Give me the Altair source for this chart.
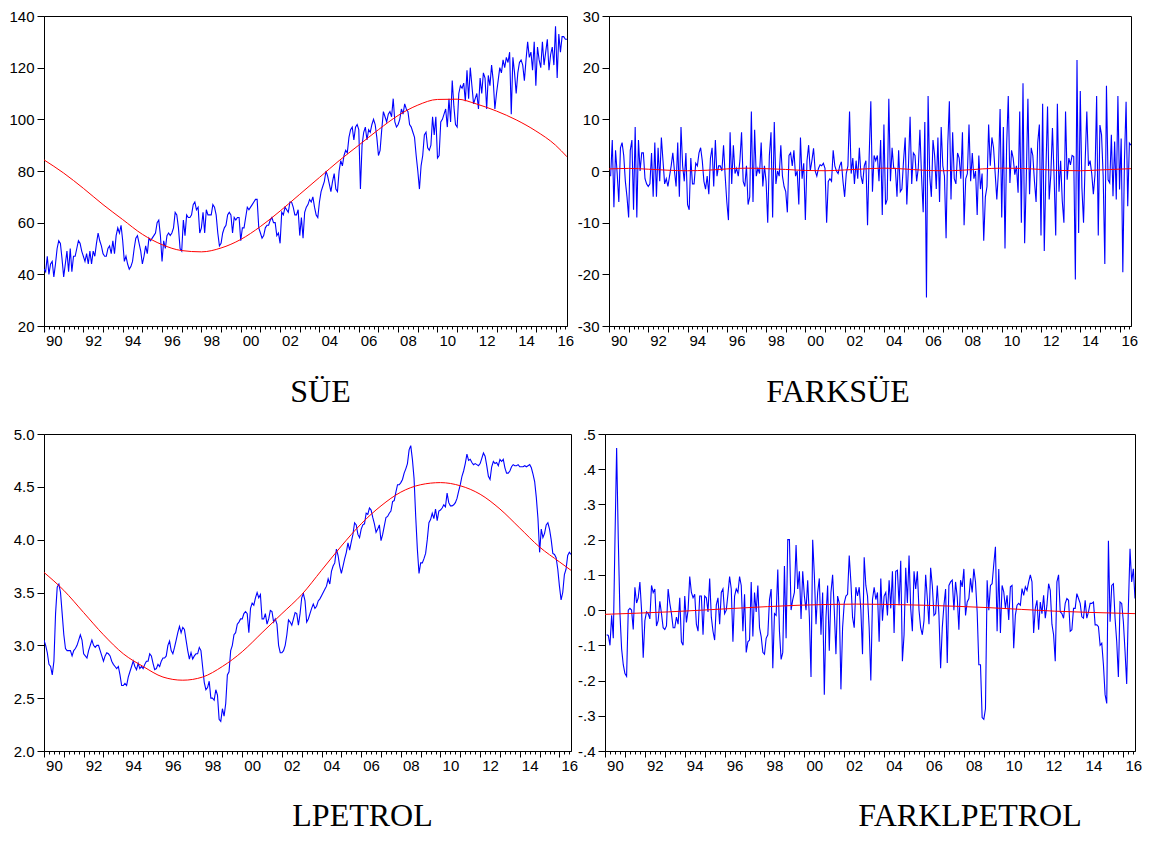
import altair as alt
import pandas as pd

# ---------------- data (monthly, 1990M01 - 2016M08) ----------------
SUE = [
    42, 41, 47, 40, 44, 45, 39, 44, 50, 53, 52, 46,
    39, 44, 49, 41, 50, 41, 47, 47, 50, 53, 52, 49,
    47, 45, 48, 44, 49, 44, 49, 47, 52, 56, 53, 51,
    48, 47, 47, 50, 51, 48, 53, 48, 55, 58, 56, 59,
    53, 45, 47, 44, 42, 43, 45, 50, 54, 55, 52, 49,
    44, 47, 51, 48, 54, 53, 54, 55, 56, 60, 61, 55,
    45, 53, 50, 55, 56, 55, 56, 58, 64, 63, 58, 50,
    49, 61, 55, 63, 62, 62, 63, 67, 68, 65, 66, 56,
    58, 64, 56, 65, 63, 63, 63, 67, 66, 63, 56, 51,
    52, 56, 58, 59, 63, 64, 63, 56, 62, 61, 62, 62,
    53, 58, 58, 62, 66, 65, 66, 67, 68, 69, 69, 58,
    56, 54, 55, 58, 59, 59, 61, 62, 60, 60, 55, 56,
    52, 64, 63, 66, 65, 64, 68, 68, 66, 63, 63, 65,
    55, 62, 54, 64, 66, 67, 69, 68, 70, 66, 63, 62,
    68, 72, 74, 76, 80, 78, 75, 72, 76, 79, 73, 72,
    80, 84, 82, 86, 88, 87, 93, 96, 97, 92, 97, 98,
    96, 73, 90, 95, 97, 92, 96, 95, 98, 100, 98, 93,
    86, 88, 96, 103, 101, 99, 102, 103, 101, 108, 99, 97,
    98, 100, 104, 102, 106, 104, 103, 98, 97, 95, 93, 86,
    80, 73, 82, 86, 94, 95, 89, 88, 90, 101, 94, 101,
    85, 86, 99, 100, 102, 104, 97, 108, 99, 115, 105, 98,
    97, 110, 113, 112, 114, 107, 119, 108, 120, 113, 106, 108,
    110, 104, 116, 110, 118, 116, 104, 117, 113, 121, 115, 104,
    110, 115, 120, 118, 123, 120, 124, 122, 126, 102, 124, 118,
    110, 118, 122, 123, 121, 115, 123, 130, 124, 126, 119, 130,
    113, 128, 123, 120, 130, 121, 126, 131, 119, 125, 128, 121,
    136, 116, 133, 126, 132, 132, 131, 131,
]

FARKSUE = [
    None, -1, 6, -7, 4, -0.5, -6, 4.5, 5.5, 3, -2, -5,
    -9, 4, 6, -7.5, 8.5, -9, 6, 0, 3.5, 3.5, -1.5, -2.5,
    -3, -2.5, 3.5, -5, 5.5, -5, 4.5, -2, 6.5, 2, -2.5, -1.5,
    -3, -1, 1, 3.5, 0, -3, 5.5, -5, 8.5, 1, -2, 3.5,
    -6.5, -7.5, 2.5, -2.5, -2.5, 1.5, 1, 3.5, 4.5, 2, -2, -3.5,
    -1, -4.5, 2.5, 4.5, -3, 6, -1, 1, 1, 0, 5, -1,
    -6, -9.5, 7.5, -2.5, 5, -0.5, 0.5, -1, 2, 7.5, -2, -3,
    1, -6.5, -5, 11.5, -6, 8, -1, 0.5, -0.5, 5.5, -3, 1,
    -2, -10, 3, 7.5, -9, 9.5, -2.5, 0, -1, 5, -1, -3,
    -4, -8, 3, 3.5, 1, 4, -1, 0, -6.5, 6.5, -1.5, 1.5,
    -9.5, 2, 5, 0, 2, 4.4, 0, -1, 0.5, 1.2, 1, 1.5,
    0.5, -10, -2, -1.5, -2, 4, 1, 0, -0.5, 1, 1.8, -2,
    -5, -0.5, 1, 11.5, -0.5, 2.5, -2.5, 2, -1.5, 4.5, -1, -2.5,
    1, 2, -10.5, 3, 13.5, -4, 3, 2, 3, -2, 6, -8.5,
    9, -6.5, -5.5, 14, -2, 4.5, 0.5, 0.5, -5, 4, -4, -3.5,
    2, 6.5, -6.5, 1, 10.5, -2.5, 3.5, 3, -2, 0.5, 8, -1,
    -8, 9.5, -24.5, 14.5, -1, -5, 6, 3, -3.5, 6.5, -6, 8.5,
    1, -1, -13, 5, 13.5, -5.5, 7.5, -1.5, -2.5, 3.5, 2.5, -1.5,
    7.5, -10.5, -1.5, -0.5, 9, -2, 3.5, -1.5, 0, -8.5, 3, -3.5,
    -0.5, -13.5, -5, -3, 9, 1, 6.5, 4.5, -0.5, -5.5, 0, 12,
    -9, 8.5, -15, 5, 14.5, -2.3, 4, 2.5, -0.7, 1, -4.2, 11.5,
    -10, 17, -14, -1.5, 14, -4.5, 4.5, 3, -2, -6, 5.5, 9,
    -12.5, 13, -15.5, 0, 12.5, -5.5, -0.7, 8.3, -1, -12.5, 13, -4,
    2, -5.8, -10, 11.5, -1.7, 2.5, 1.2, 3, 2.8, -21, 21.5, -12,
    15.5, -3.3, -10, 2, 11.5, 1, 2, -0.5, -4.5, -0.7, 14.5, -12.5,
    8.9, 7, -1, -18, 16.5, -1.7, -2.3, 7, -4.9, 5.7, -5.5, 14.5,
    -3.6, 6.3, -19.6, 2, 13.4, -6.8, 5.4, 5,
]

LPETROL = [
    3.05, 3.0, 2.93, 2.82, 2.8, 2.72, 2.85, 3.3, 3.55, 3.58, 3.5, 3.3,
    3.1, 2.97, 2.95, 2.95, 2.95, 2.9, 2.95, 2.97, 3.0, 3.05, 3.1, 3.05,
    2.92, 2.9, 2.88, 2.95, 3.0, 3.05, 3.0, 2.98, 3.0, 3.0, 2.95, 2.9,
    2.85, 2.9, 2.93, 2.92, 2.9, 2.85, 2.82, 2.8, 2.78, 2.8, 2.72, 2.62,
    2.62, 2.64, 2.62, 2.7, 2.75, 2.8, 2.85, 2.8, 2.77, 2.83, 2.78, 2.8,
    2.78, 2.82, 2.85, 2.85, 2.92, 2.9, 2.83, 2.77, 2.78, 2.82, 2.8, 2.85,
    2.88, 2.88, 2.9, 3.0, 3.04, 2.95, 2.92, 2.98, 3.05, 3.12, 3.18, 3.12,
    3.17, 3.15, 3.05, 2.95, 2.87, 2.93, 2.87, 2.9, 2.92, 2.92, 2.98, 2.95,
    2.8, 2.65, 2.58, 2.6, 2.66, 2.5, 2.5, 2.48, 2.58, 2.53, 2.3, 2.28,
    2.4, 2.33, 2.45, 2.72, 2.75, 2.95, 3.0, 3.1, 3.12, 3.2, 3.22, 3.25,
    3.25, 3.3, 3.32, 3.3, 3.12, 3.35, 3.4, 3.38, 3.45, 3.5, 3.45, 3.48,
    3.25, 3.25, 3.3, 3.2, 3.25, 3.33, 3.32, 3.22, 3.25, 3.2, 3.0, 2.93,
    2.93, 2.95, 3.0, 3.1, 3.24, 3.22, 3.19, 3.25, 3.31, 3.3, 3.19, 3.3,
    3.45, 3.49, 3.42, 3.22, 3.25, 3.3, 3.35, 3.39, 3.35, 3.37, 3.42, 3.44,
    3.47, 3.5, 3.53, 3.56, 3.63, 3.58, 3.7, 3.75, 3.78, 3.91, 3.85, 3.75,
    3.68, 3.75, 3.82, 3.88, 3.97, 3.9, 3.98, 4.05, 4.16, 4.14, 4.05, 4.02,
    4.1, 4.14, 4.15, 4.25, 4.24, 4.3, 4.28, 4.21, 4.15, 4.07, 4.1, 4.14,
    3.99, 4.05, 4.13, 4.21, 4.22, 4.25, 4.27, 4.36, 4.37, 4.45, 4.52, 4.52,
    4.54, 4.57, 4.63, 4.67, 4.72, 4.85, 4.89, 4.76, 4.58, 4.22, 3.91, 3.68,
    3.78, 3.78, 3.82, 3.87, 4.0, 4.16, 4.19, 4.25, 4.2, 4.29, 4.18, 4.27,
    4.28, 4.3, 4.33, 4.31, 4.44, 4.35, 4.32, 4.32, 4.33, 4.35, 4.39, 4.46,
    4.52, 4.6, 4.65, 4.72, 4.81, 4.75, 4.76, 4.73, 4.71, 4.72, 4.71, 4.7,
    4.72, 4.77, 4.82, 4.79, 4.7, 4.6, 4.57, 4.69, 4.74, 4.72, 4.73, 4.7,
    4.76, 4.74, 4.76, 4.68, 4.63, 4.63, 4.65, 4.69, 4.71, 4.7, 4.7, 4.71,
    4.69, 4.69, 4.69, 4.7, 4.69, 4.7, 4.71, 4.68, 4.62, 4.55, 4.4, 4.2,
    3.88, 4.1, 4.02, 4.06, 4.14, 4.16, 4.1, 4.0, 3.87, 3.86, 3.83, 3.72,
    3.56, 3.43, 3.5, 3.67, 3.72, 3.85, 3.88, 3.86,
]

FARKLPETROL = [
    None, -0.07, -0.072, -0.1, -0.015, -0.08, 0.2, 0.46, 0.2, -0.01, -0.11, -0.155,
    -0.18, -0.188, 0.0, 0.005, 0.0, -0.055, 0.065, 0.02, 0.035, 0.08, 0.0, -0.135,
    -0.03, -0.005, -0.01, -0.025, 0.07, 0.05, 0.06, -0.045, -0.03, 0.025, -0.01, -0.05,
    -0.055, -0.045, 0.06, 0.02, -0.01, -0.05, -0.05, -0.02, -0.04, 0.035, -0.09, -0.1,
    0.04, -0.035, 0.0, 0.095, 0.05, 0.035, 0.045, -0.04, -0.06, 0.04, 0.04, -0.07,
    0.04, 0.035, -0.005, 0.09, -0.02, -0.06, -0.085, 0.015, 0.035, -0.04, 0.05, 0.06,
    -0.01, 0.0, 0.045, 0.095, 0.06, -0.09, 0.04, 0.06, 0.05, 0.095, 0.07, -0.06,
    0.045, -0.12, -0.09, -0.085, 0.08, -0.075, 0.05, -0.005, 0.07, -0.05, -0.075, -0.12,
    -0.125, -0.08, -0.07, 0.03, 0.06, -0.165, -0.01, -0.015, 0.115, -0.06, -0.14, -0.12,
    0.125, -0.08, 0.2, 0.2, 0.0, 0.03, 0.05, 0.185, 0.06, 0.11, -0.025, 0.11,
    0.04, 0.0, 0.085, -0.02, -0.19, 0.2, 0.1, -0.04, 0.05, 0.09, -0.07, 0.05,
    -0.24, -0.02, 0.07, -0.115, 0.05, 0.1, 0.0, -0.125, 0.04, 0.02, -0.225, -0.05,
    0.02, 0.04, 0.045, 0.155, 0.08, -0.02, -0.05, 0.065, 0.04, 0.065, 0.0, -0.125,
    0.15, 0.07, 0.04, -0.05, -0.2, 0.03, 0.065, 0.03, 0.05, -0.09, 0.09, -0.03,
    0.04, 0.05, -0.015, 0.085, 0.005, 0.11, -0.065, 0.11, 0.113, 0.014, 0.14, -0.145,
    -0.07, 0.12, 0.02, 0.155, 0.005, -0.06, 0.11, 0.06, 0.11, 0.0, -0.05, -0.07,
    -0.03, 0.1, 0.033, -0.04, 0.12, 0.07, -0.015, -0.01, 0.07, -0.015, -0.165, -0.05,
    0.014, 0.06, -0.15, 0.07, 0.08, 0.085, 0.0, 0.08, 0.037, -0.056, 0.085, 0.066,
    0.117, -0.015, 0.023, 0.033, 0.09, 0.05, 0.117, 0.08, -0.005, -0.155, -0.155, -0.305,
    -0.31, -0.28, 0.085, 0.0, 0.07, 0.075, 0.13, 0.18, -0.06, 0.117, -0.065, 0.07,
    0.052, 0.005, 0.042, -0.028, 0.066, 0.07, -0.108, -0.014, 0.014, 0.019, 0.014, 0.061,
    0.042, 0.066, 0.056, 0.08, 0.1, 0.08, -0.065, 0.005, 0.028, -0.056, 0.023, -0.01,
    0.042, -0.023, 0.014, 0.075, 0.056, -0.04, -0.07, -0.145, 0.08, 0.1, -0.005, -0.01,
    -0.023, 0.019, 0.033, 0.028, -0.06, -0.056, 0.005, 0.005, 0.047, 0.033, 0.019, -0.019,
    -0.023, 0.028, -0.023, -0.005, 0.019, 0.019, 0.023, -0.042, -0.042, -0.047, -0.1, -0.094,
    -0.155, -0.24, -0.265, 0.197, -0.033, 0.07, 0.075, -0.023, -0.09, -0.19, 0.023, 0.019,
    -0.033, -0.117, -0.21, 0.005, 0.174, 0.08, 0.117, 0.033,
]

# fitted trend curves (red), read at year knots
SUE_TREND_T = [1990, 1991, 1992, 1993, 1994, 1995, 1996, 1997, 1998, 1999, 2000, 2001, 2002,
               2003, 2004, 2005, 2006, 2007, 2008, 2009, 2010, 2011, 2012, 2013, 2014, 2015,
               2016, 2016.583]
SUE_TREND = [84.3, 79.2, 73.3, 67.0, 61.2, 55.5, 51.5, 49.2, 48.7, 50.2, 53.5, 58.5, 64.5,
             71.0, 77.5, 84.0, 90.0, 96.0, 101.5, 105.5, 107.7, 107.8, 105.9, 103.2, 99.8,
             95.5, 90.0, 85.5]

FARKSUE_TREND_T = [1990, 1991, 1992, 1993, 1994, 1995, 1996, 1997, 1998, 1999, 2000, 2001,
                   2002, 2003, 2004, 2005, 2006, 2007, 2008, 2009, 2010, 2011, 2012, 2013,
                   2014, 2015, 2016.583]
FARKSUE_TREND = [0.4, 0.5, 0.35, 0.15, 0.05, 0.15, 0.4, 0.55, 0.45, 0.3, 0.1, 0.05, 0.2,
                 0.4, 0.55, 0.4, 0.15, 0.05, 0.15, 0.4, 0.55, 0.5, 0.3, 0.1, 0.05, 0.2, 0.45]

LPETROL_TREND_T = SUE_TREND_T
LPETROL_TREND = [3.69, 3.52, 3.31, 3.10, 2.92, 2.80, 2.70, 2.67, 2.70, 2.80, 2.94, 3.12, 3.30,
                 3.48, 3.71, 3.94, 4.15, 4.32, 4.45, 4.52, 4.54, 4.51, 4.43, 4.29, 4.11, 3.93,
                 3.79, 3.71]

FARKLPETROL_TREND_T = [1990, 1993.2, 1996.5, 1999.8, 2002.6, 2005.9, 2009.25, 2012.56, 2015.9, 2016.583]
FARKLPETROL_TREND = [-0.012, -0.005, 0.005, 0.014, 0.017, 0.014, 0.007, -0.003, -0.009, -0.010]

SUE_TICKS = [20, 40, 60, 80, 100, 120, 140]
FARKSUE_TICKS = [-30, -20, -10, 0, 10, 20, 30]
LPETROL_TICKS = [2.0, 2.5, 3.0, 3.5, 4.0, 4.5, 5.0]
FARKLPETROL_TICKS = [-0.4, -0.3, -0.2, -0.1, 0.0, 0.1, 0.2, 0.3, 0.4, 0.5]
X_TICKS = [1990 + q * 0.25 for q in range(107)]  # quarterly ticks 1990 .. 2016.5

START = 1990.0
END = 1990 + 319 / 12.0

BLUE = "#0000FF"
RED = "#FF0000"


def panel(values, trend_t, trend_v, ydom, yticks, ylabel_expr, title, dx, w, h, toff):
    df = pd.DataFrame({"t": [START + i / 12.0 for i in range(len(values))], "v": values})
    tr = pd.DataFrame({"t": trend_t, "v": trend_v})
    xscale = alt.Scale(domain=[START, END], nice=False, zero=False)
    yscale = alt.Scale(domain=ydom, nice=False, zero=False)
    xaxis = alt.Axis(
        values=X_TICKS,
        labelExpr="datum.value % 2 == 0.5 ? format(floor(datum.value) % 100, '02d') : ''",
        tickSize={"condition": {"test": "datum.value % 1 == 0", "value": 6}, "value": 3},
        labelPadding=4,
        title=None,
    )
    yaxis = alt.Axis(values=yticks, labelExpr=ylabel_expr, tickSize=7, labelPadding=3, title=None)
    x = alt.X("t:Q", scale=xscale, axis=xaxis)
    y = alt.Y("v:Q", scale=yscale, axis=yaxis)
    blue = alt.Chart(df).mark_line(color=BLUE, strokeWidth=1.1, clip=True).encode(x=x, y=y)
    red = alt.Chart(tr).mark_line(color=RED, strokeWidth=1, interpolate="monotone", clip=True).encode(x=x, y=y)
    return alt.layer(blue, red).properties(
        width=w, height=h,
        title=alt.TitleParams(text=title, dx=dx, offset=toff),
    )


INT_EXPR = "replace(format(datum.value, 'd'), '\u2212', '-')"
ONE_DEC = "format(datum.value, '.1f')"
NO_ZERO = "replace(replace(format(datum.value, '.1f'), '\u2212', '-'), '0.', '.')"

p1 = panel(SUE, SUE_TREND_T, SUE_TREND, [20, 140], SUE_TICKS, INT_EXPR, "SÜE", 15, 523, 310, 26)
p2 = panel(FARKSUE, FARKSUE_TREND_T, FARKSUE_TREND, [-30, 30], FARKSUE_TICKS, INT_EXPR, "FARKSÜE", -32, 522, 310, 26)
p3 = panel(LPETROL, LPETROL_TREND_T, LPETROL_TREND, [2, 5], LPETROL_TICKS, ONE_DEC, "LPETROL", 55, 527, 317, 25)
p4 = panel(FARKLPETROL, FARKLPETROL_TREND_T, FARKLPETROL_TREND, [-0.4, 0.5], FARKLPETROL_TICKS, NO_ZERO, "FARKLPETROL", 100, 530, 317, 25)

chart = alt.concat(
    p1, p2, p3, p4, columns=2, align="none",
    spacing={"row": 17, "column": -3},
).properties(
    padding={"left": 0, "top": 0, "right": 0, "bottom": 0},
    background="white",
).configure_view(
    stroke="black", strokeWidth=1,
).configure_axis(
    labelFont="Liberation Sans", labelFontSize=15, labelColor="black",
    tickColor="black", domainColor="black", tickWidth=1, domainWidth=1,
    grid=False, labelFlush=False, labelOverlap=False,
).configure_title(
    font="Liberation Serif", fontSize=32, fontWeight="normal", color="black",
    anchor="middle", frame="group", orient="bottom",
)

chart.save("out.html", embed_options={"renderer": "svg", "actions": False})
